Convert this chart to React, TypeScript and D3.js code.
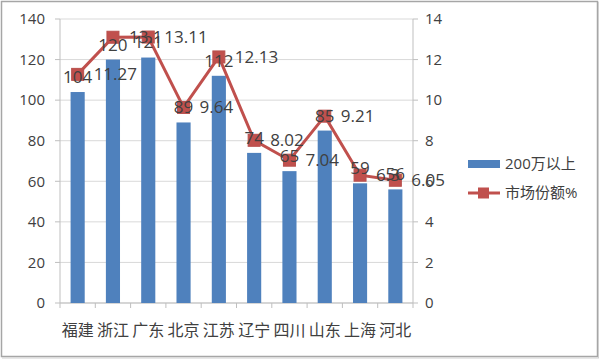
import React from "react";
import * as d3 from "d3";

const categories = ["福建", "浙江", "广东", "北京", "江苏", "辽宁", "四川", "山东", "上海", "河北"];
const barValues = [104, 120, 121, 89, 112, 74, 65, 85, 59, 56];
const shareValues = [11.27, 13.1, 13.11, 9.64, 12.13, 8.02, 7.04, 9.21, 6.3, 6.05];
const leftTicks = [0, 20, 40, 60, 80, 100, 120, 140];
const rightTicks = [0, 2, 4, 6, 8, 10, 12, 14];
const seriesNames = ["200万以上", "市场份额%"];

const W = 600;
const H = 359;
const FONT = "'Open Sans', 'Noto Sans CJK SC', sans-serif";
const TEXT = "#404040";
const BLUE = "#4f81bd";
const RED = "#c0504d";

export default function App() {
  const plotLeft = 60;
  const plotRight = 413;
  const plotTop = 19;
  const plotBottom = 303;

  const x = d3.scaleBand<string>().domain(categories).range([plotLeft, plotRight]).paddingInner(0).paddingOuter(0);
  const yL = d3.scaleLinear().domain([0, 140]).range([plotBottom, plotTop]);
  const yR = d3.scaleLinear().domain([0, 14]).range([plotBottom, plotTop]);
  const bw = x.bandwidth() * 0.4;
  const cx = (c: string) => (x(c) as number) + x.bandwidth() / 2;

  const line = d3
    .line<number>()
    .x((_, i) => cx(categories[i]))
    .y((d) => yR(d));

  const boundaries = d3.range(categories.length + 1).map((i) => plotLeft + i * x.bandwidth());

  return (
    <svg width={W} height={H} style={{ position: "absolute", left: 0, top: 0 }} fontFamily={FONT}>
      <rect x={0} y={0} width={W} height={H} fill="#fff" />
      <rect x={1.5} y={1.5} width={596} height={355} fill="none" stroke="#a6a6a6" strokeWidth={1.5} />
      <line x1={598.5} y1={2} x2={598.5} y2={358} stroke="#d0d0d0" strokeWidth={1} />
      <line x1={2} y1={358} x2={599} y2={358} stroke="#d0d0d0" strokeWidth={1} />

      {leftTicks.map((t) => (
        <line key={"g" + t} x1={plotLeft} x2={plotRight} y1={yL(t)} y2={yL(t)} stroke="#d9d9d9" strokeWidth={1} />
      ))}

      {/* left axis */}
      <line x1={plotLeft} x2={plotLeft} y1={plotTop} y2={plotBottom} stroke="#bfbfbf" />
      {leftTicks.map((t) => (
        <g key={"l" + t}>
          <line x1={plotLeft - 5} x2={plotLeft} y1={yL(t)} y2={yL(t)} stroke="#bfbfbf" />
          <text x={45} y={yL(t)} dy="0.35em" textAnchor="end" fontSize={15} fill={TEXT}>
            {t}
          </text>
        </g>
      ))}

      {/* right axis */}
      <line x1={plotRight} x2={plotRight} y1={plotTop} y2={plotBottom} stroke="#bfbfbf" />
      {rightTicks.map((t) => (
        <g key={"r" + t}>
          <line x1={plotRight} x2={plotRight + 5} y1={yR(t)} y2={yR(t)} stroke="#bfbfbf" />
          <text x={425} y={yR(t)} dy="0.35em" textAnchor="start" fontSize={15} fill={TEXT}>
            {t}
          </text>
        </g>
      ))}

      {/* bottom axis */}
      <line x1={plotLeft} x2={plotRight} y1={plotBottom} y2={plotBottom} stroke="#bfbfbf" />
      {boundaries.map((b, i) => (
        <line key={"b" + i} x1={b} x2={b} y1={plotBottom} y2={plotBottom + 5} stroke="#bfbfbf" />
      ))}
      {categories.map((c) => (
        <text key={"c" + c} x={cx(c)} y={330} dy="0.35em" textAnchor="middle" fontSize={16} fill={TEXT}>
          {c}
        </text>
      ))}

      {/* bars */}
      {categories.map((c, i) => (
        <rect
          key={"bar" + c}
          x={cx(c) - bw / 2}
          y={yL(barValues[i])}
          width={bw}
          height={plotBottom - yL(barValues[i])}
          fill={BLUE}
        />
      ))}

      {/* line */}
      <path d={line(shareValues) || ""} fill="none" stroke={RED} strokeWidth={3} />
      {categories.map((c, i) => (
        <rect
          key={"m" + c}
          x={cx(c) - 6}
          y={yR(shareValues[i]) - 6}
          width={12}
          height={12}
          fill={RED}
          stroke="#b9504d"
        />
      ))}

      {/* bar labels */}
      {categories.map((c, i) => (
        <text key={"bl" + c} x={cx(c)} y={yL(barValues[i]) - 15} dy="0.35em" textAnchor="middle" fontSize={17} fill={TEXT}>
          {barValues[i]}
        </text>
      ))}
      {/* line labels */}
      {categories.map((c, i) => (
        <text key={"ll" + c} x={cx(c) + 16} y={yR(shareValues[i])} dy="0.35em" textAnchor="start" fontSize={17} fill={TEXT}>
          {shareValues[i]}
        </text>
      ))}

      {/* legend */}
      <rect x={468} y={160} width={32} height={8} fill={BLUE} />
      <text x={505} y={164} dy="0.35em" fontSize={15} fill={TEXT}>
        {seriesNames[0]}
      </text>
      <line x1={468} x2={500} y1={193} y2={193} stroke={RED} strokeWidth={3} />
      <rect x={478} y={187.5} width={11} height={11} fill={RED} />
      <text x={505} y={193} dy="0.35em" fontSize={15} fill={TEXT}>
        {seriesNames[1]}
      </text>
    </svg>
  );
}
